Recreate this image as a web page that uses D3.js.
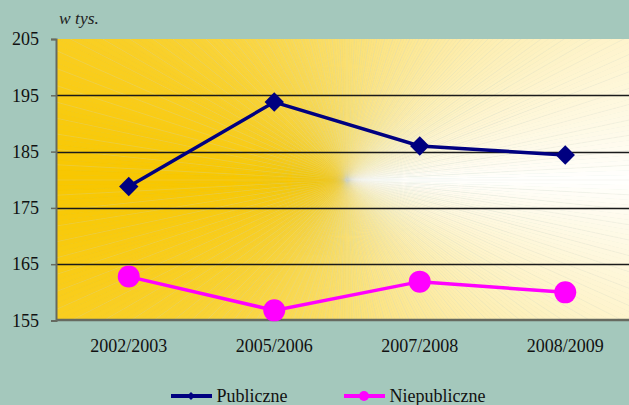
<!DOCTYPE html>
<html>
<head>
<meta charset="utf-8">
<script src="https://cdn.jsdelivr.net/npm/d3@7"></script>
<style>
  body { margin: 0; background: #a4c8bc; }
  svg { display: block; }
</style>
</head>
<body>
<svg id="chart" width="629" height="405"></svg>
<script>
var categories = ["2002/2003", "2005/2006", "2007/2008", "2008/2009"];
var publiczne = [178.8, 193.8, 186.0, 184.4];
var niepubliczne = [162.8, 156.8, 161.9, 160.0];
var yTicks = [155, 165, 175, 185, 195, 205];

var serifFont = "'Liberation Serif'";

var svg = d3.select("#chart"),
    margin = {top: 39, left: 56, bottom: 85},
    W = +svg.attr("width"), H = +svg.attr("height"),
    bottom = H - margin.bottom;

// band of ~145px per category; last band runs off the right edge
var x = d3.scaleBand().domain(categories).range([margin.left, margin.left + 582]);
var y = d3.scaleLinear().domain([155, 205]).range([bottom + 0.5, margin.top]);

svg.append("clipPath").attr("id", "plotclip")
  .append("rect")
  .attr("x", margin.left).attr("y", margin.top)
  .attr("width", W - margin.left).attr("height", bottom - margin.top);

// sunburst fill: colour depends on direction from the centre
var cx = 347, cy = 180;
var orange = "#f8c700";
var col = d3.interpolateRgb("#ffffff", orange);
var wedges = d3.range(360);
var arc = d3.arc().innerRadius(0).outerRadius(900);
var bg = svg.append("g").attr("clip-path", "url(#plotclip)");
bg.append("g").attr("transform", "translate(" + cx + "," + cy + ")")
  .selectAll("path").data(wedges).enter().append("path")
  .attr("d", function(i) {
    return arc({startAngle: i * Math.PI / 180, endAngle: (i + 1.05) * Math.PI / 180});
  })
  .each(function(i) {
    var a = (i + 0.5) * Math.PI / 180;
    var d = Math.abs(a - Math.PI / 2);
    if (d > Math.PI) d = 2 * Math.PI - d;
    var t = Math.pow(d / Math.PI, 0.85);
    d3.select(this).attr("fill", col(t)).attr("stroke", col(t)).attr("stroke-width", 0.4);
  });

// faint rays
bg.append("g").attr("transform", "translate(" + cx + "," + cy + ")")
  .selectAll("line").data(d3.range(0, 360, 3)).enter().append("line")
  .attr("x1", 0).attr("y1", 0)
  .attr("x2", function(d) { return 900 * Math.cos(d * Math.PI / 180); })
  .attr("y2", function(d) { return 900 * Math.sin(d * Math.PI / 180); })
  .attr("stroke", "#d2d8cc").attr("stroke-opacity", 0.35).attr("stroke-width", 0.6);

// gridlines
svg.append("g").selectAll("line")
  .data(yTicks.filter(function(d) { return d > 155 && d < 205; }))
  .enter().append("line")
  .attr("x1", margin.left).attr("x2", W)
  .attr("y1", function(d) { return Math.round(y(d)) + 0.5; })
  .attr("y2", function(d) { return Math.round(y(d)) + 0.5; })
  .attr("stroke", "#1a1a1a").attr("stroke-width", 1.3);

// y axis
var yAxis = svg.append("g")
  .attr("transform", "translate(" + margin.left + ",0)")
  .call(d3.axisLeft(y).tickValues(yTicks).tickSize(5).tickPadding(12));
yAxis.select(".domain").attr("stroke", "#666a60").attr("stroke-width", 2);
yAxis.selectAll(".tick line").attr("stroke", "#666a60").attr("stroke-width", 1.5);
yAxis.selectAll("text").attr("fill", "#111").style("font-size", "18px");

// x axis
var xAxis = svg.append("g")
  .attr("transform", "translate(0," + bottom + ")")
  .call(d3.axisBottom(x).tickSize(0).tickPadding(19));
xAxis.select(".domain").attr("stroke", "#666a60").attr("stroke-width", 2.5)
  .attr("d", "M" + margin.left + ",0H" + W);
xAxis.selectAll("text").attr("fill", "#111").style("font-size", "18px");

svg.append("text").attr("x", 59).attr("y", 24)
  .style("font-style", "italic").style("font-size", "17.5px").attr("fill", "#222")
  .text("w tys.");

var line = d3.line()
  .x(function(d, i) { return x(categories[i]) + x.bandwidth() / 2; })
  .y(function(d) { return y(d); });

svg.append("path").datum(niepubliczne).attr("d", line)
  .attr("fill", "none").attr("stroke", "#ff00ff").attr("stroke-width", 3.5);
svg.append("g").selectAll("circle").data(niepubliczne).enter().append("circle")
  .attr("cx", function(d, i) { return x(categories[i]) + x.bandwidth() / 2; })
  .attr("cy", function(d) { return y(d); })
  .attr("r", 11).attr("fill", "#ff00ff");

svg.append("path").datum(publiczne).attr("d", line)
  .attr("fill", "none").attr("stroke", "#000080").attr("stroke-width", 3.5);
var diamond = d3.symbol().type(d3.symbolDiamond2).size(240);
svg.append("g").selectAll("path").data(publiczne).enter().append("path")
  .attr("d", diamond)
  .attr("transform", function(d, i) {
    return "translate(" + (x(categories[i]) + x.bandwidth() / 2) + "," + y(d) + ")";
  })
  .attr("fill", "#000080");

// legend
var legendItems = [
  {name: "Publiczne", color: "#000080", x: 171, marker: "diamond"},
  {name: "Niepubliczne", color: "#ff00ff", x: 344, marker: "circle"}
];
var lg = svg.selectAll(".legend").data(legendItems).enter().append("g")
  .attr("class", "legend")
  .attr("transform", function(d) { return "translate(" + d.x + ",396)"; });
lg.append("line").attr("x1", 0).attr("x2", 41).attr("y1", 0).attr("y2", 0)
  .attr("stroke", function(d) { return d.color; }).attr("stroke-width", 4);
lg.each(function(d) {
  var g = d3.select(this);
  if (d.marker === "diamond") {
    g.append("path").attr("d", d3.symbol().type(d3.symbolDiamond2).size(40))
      .attr("transform", "translate(20,0)").attr("fill", d.color);
  } else {
    g.append("circle").attr("cx", 20).attr("r", 5).attr("fill", d.color);
  }
});
lg.append("text").attr("x", 45.5).attr("y", 5.5)
  .style("font-size", "18px").attr("fill", "#111")
  .text(function(d) { return d.name; });

svg.selectAll("text").style("font-family", serifFont);
</script>
</body>
</html>
